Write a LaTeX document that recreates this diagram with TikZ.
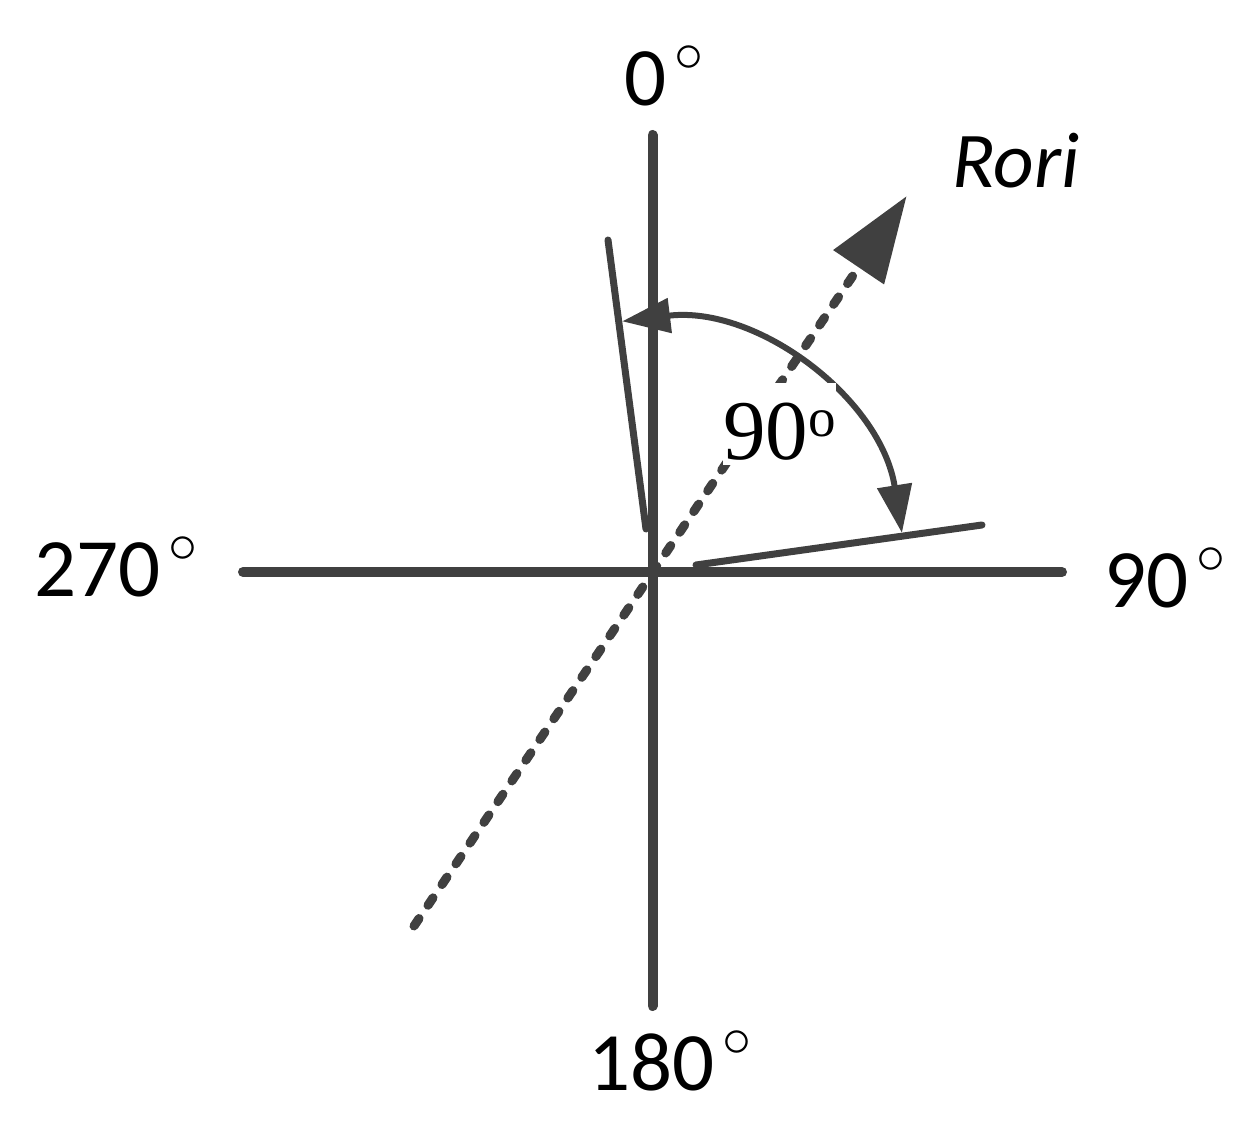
\documentclass[tikz,border=0pt]{standalone}
\usepackage{fontspec}
\usepackage{graphicx}
\usetikzlibrary{arrows.meta}
\newfontfamily\labfont{Carlito}
\newfontfamily\serfont{Liberation Serif}
\definecolor{lc}{RGB}{64,64,64}
\newcommand{\dg}{\hspace{8.5pt}\raisebox{34pt}{\scalebox{5.8}{\fontsize{10}{12}\selectfont$\circ$}}}
\begin{document}
\begin{tikzpicture}[x=1pt,y=1pt,
  axis/.style={draw=lc, color=lc, line width=10pt, line cap=round},
  ray/.style={draw=lc, color=lc, line width=7pt, line cap=round},
  dir/.style={draw=lc, color=lc, line width=9pt, line cap=round, dash pattern=on 9pt off 16pt},
  sweep/.style={draw=lc, color=lc, line width=6pt},
  lab/.style={font={\labfont\fontsize{83}{90}\selectfont}, inner sep=0pt, anchor=base west, text=black}]
\useasboundingbox (0,0) rectangle (1259,1120);
\coordinate (O) at (652.5,548);
\coordinate (N) at (652.5,985);
\coordinate (S) at (652.5,114);
\coordinate (W) at (243,548);
\coordinate (E) at (1062,548);
\draw[axis] (N) -- (S);
\draw[axis] (W) -- (E);
\coordinate (D1) at (414,194);
\coordinate (D2) at (906.7,924);
\draw[dir, -{Triangle[length=86pt,width=59pt]}] (D1) -- (D2);
\coordinate (R1a) at (608,880);
\coordinate (R1b) at (646,591);
\coordinate (R2a) at (696,555);
\coordinate (R2b) at (982,595);
\draw[ray] (R1a) -- (R1b);
\draw[ray] (R2a) -- (R2b);
\draw[sweep, {Triangle[length=48pt,width=34pt]}-{Triangle[length=48pt,width=34pt]}]
  ([shift={(8.9:252.5)}]O) arc[start angle=8.9, end angle=96.9, radius=252.5];
\node[font={\serfont\fontsize{85}{85}\selectfont}, fill=white, inner sep=0pt,
  text height=77pt, text depth=5pt, anchor=base west, text=black] (ang) at (723,660)
  {90{\fontsize{55}{55}\selectfont\raisebox{23pt}{o}}};
\node[lab] (l0) at (624,1014) {0\dg};
\node[lab] (l270) at (34,523) {270\dg};
\node[lab] (l90) at (1104,512) {90\dg};
\node[lab] (l180) at (588,30) {180\dg};
\node[lab, font={\labfont\itshape\fontsize{79}{85}\selectfont}] (rori) at (952,932) {Rori};
\end{tikzpicture}
\end{document}
